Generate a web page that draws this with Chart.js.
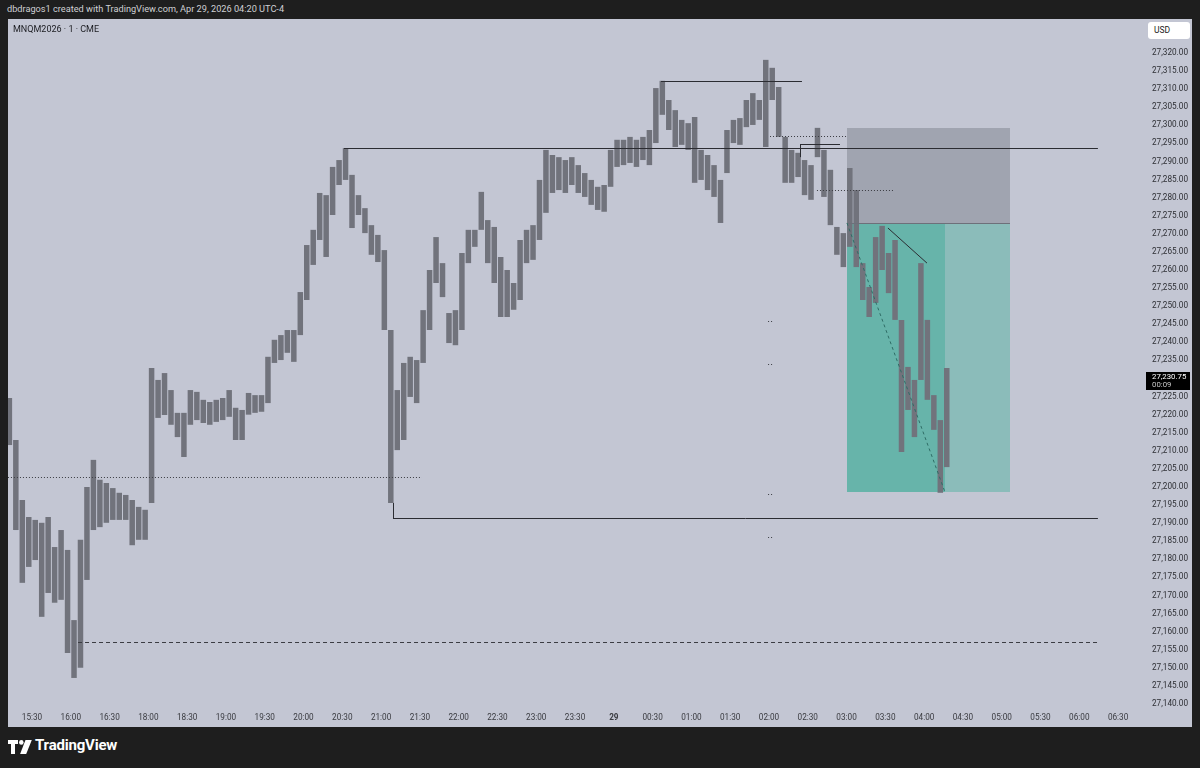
<!DOCTYPE html>
<html>
<head>
<meta charset="utf-8">
<script src="https://cdn.jsdelivr.net/npm/chart.js@4.4.0/dist/chart.umd.min.js"></script>
<style>
  html, body { margin:0; padding:0; background:#1e1e1e; width:1200px; height:768px; overflow:hidden;
    font-family: Roboto, "Liberation Sans", sans-serif; }
  #head { position:absolute; left:7px; top:3px; color:#cfd0d4; font-size:9.2px; white-space:nowrap; }
  #panel { position:absolute; left:8px; top:19px; width:1184px; height:708px; background:#c3c6d3; }
  #sym { position:absolute; left:13px; top:24px; font-size:9px; color:#1c1d22; white-space:nowrap; }
  #usd { position:absolute; left:1148px; top:22px; width:42px; height:17px; background:#fff; border-radius:3px;
    font-size:8.5px; color:#222; line-height:17px; padding-left:6px; box-sizing:border-box; }
  #logo { position:absolute; left:8px; top:740px; }
  #foot { position:absolute; left:35px; top:736px; color:#fff; font-weight:bold; font-size:15px; letter-spacing:-0.2px; }
</style>
</head>
<body>
<div id="head">dbdragos1 created with TradingView.com, Apr 29, 2026 04:20 UTC-4</div>
<div id="panel"><canvas id="chart" width="1184" height="708"></canvas></div>
<div id="sym">MNQM2026 · 1 · CME</div>
<div id="usd">USD</div>
<svg id="logo" width="24" height="14" viewBox="0 0 24 14">
  <path d="M0 0h10v4h-3v10h-4v-10h-3z" fill="#fff"/>
  <circle cx="13.3" cy="2.4" r="2.3" fill="#fff"/>
  <path d="M17.5 0h6.3l-5.6 14h-6.1z" fill="#fff"/>
</svg>
<div id="foot">TradingView</div>

<script>
// session minutes: 15:00 = 0, the 17:00-18:00 break is removed, so 18:00 = 120 and 00:00 = 480
var firstBarMinute = 10;   // first 5-minute bar starts 15:10
var barMinutes = 5;

// 5-minute highs and lows
var barHigh = [
  27224.6, 27213.0, 27196.4, 27191.7, 27190.9, 27190.1, 27191.7, 27183.4, 27188.1, 27182.6,
  27163.2, 27185.4, 27200.0, 27207.5, 27202.0, 27201.1, 27199.7, 27198.4, 27197.8, 27196.4,
  27194.5, 27193.7, 27232.9, 27229.6, 27231.5, 27226.8, 27220.5, 27220.5, 27226.8, 27226.3,
  27224.1, 27223.5, 27224.1, 27224.6, 27226.8, 27221.9, 27221.3, 27226.0, 27225.4, 27225.4,
  27236.0, 27240.7, 27242.0, 27243.4, 27243.4, 27253.9, 27266.9, 27271.1, 27281.3, 27280.7,
  27288.5, 27290.4, 27293.7, 27286.3, 27280.7, 27277.1, 27272.4, 27269.7, 27265.5, 27243.4,
  27226.8, 27234.3, 27236.0, 27235.1, 27248.9, 27260.0, 27269.1, 27261.9, 27248.1, 27248.9,
  27264.7, 27271.1, 27271.1, 27281.6, 27273.8, 27271.9, 27263.6, 27260.0, 27256.4, 27268.3,
  27271.1, 27272.4, 27284.9, 27293.2, 27291.8, 27291.2, 27290.4, 27291.2, 27289.0, 27286.8,
  27284.9, 27283.0, 27283.5, 27293.2, 27296.0, 27296.0, 27296.8, 27296.0, 27296.8, 27298.7,
  27310.3, 27312.3, 27307.0, 27304.2, 27301.5, 27300.6, 27302.3, 27293.2, 27291.8, 27289.0,
  27284.9, 27298.7, 27301.5, 27302.0, 27307.0, 27308.9, 27307.0, 27318.1, 27315.9, 27310.6,
  27296.8, 27293.2, 27292.4, 27290.4, 27289.0, 27299.3, 27293.2, 27287.7, 27271.9, 27270.2,
  27288.2, 27282.1, 27261.9, 27255.3, 27269.1, 27272.2, 27264.7, 27268.3, 27246.2, 27233.2,
  27229.6, 27261.9, 27246.2, 27225.4, 27218.5, 27232.9
];
var barLow = [
  27211.6, 27188.1, 27173.5, 27177.9, 27179.8, 27164.1, 27170.7, 27168.0, 27168.8, 27154.1,
  27147.2, 27150.0, 27174.3, 27188.1, 27188.9, 27190.1, 27190.9, 27190.9, 27190.9, 27183.9,
  27185.4, 27185.4, 27195.6, 27219.1, 27219.9, 27217.2, 27213.8, 27208.3, 27217.2, 27218.5,
  27217.7, 27217.2, 27218.0, 27218.5, 27219.4, 27213.0, 27213.0, 27220.0, 27220.5, 27220.8,
  27223.2, 27234.3, 27235.1, 27237.1, 27234.6, 27242.0, 27251.7, 27261.4, 27268.3, 27263.6,
  27275.2, 27283.5, 27284.9, 27271.6, 27275.2, 27270.2, 27264.2, 27262.2, 27243.4, 27195.6,
  27210.2, 27213.0, 27224.9, 27223.2, 27234.3, 27243.4, 27256.4, 27252.5, 27239.8, 27239.2,
  27243.4, 27261.9, 27266.4, 27271.1, 27261.9, 27256.4, 27247.0, 27247.0, 27249.0, 27251.7,
  27261.9, 27262.8, 27268.3, 27275.8, 27281.3, 27282.1, 27281.3, 27283.5, 27281.3, 27280.2,
  27278.0, 27276.6, 27276.1, 27283.0, 27288.5, 27289.0, 27289.6, 27288.5, 27290.4, 27289.0,
  27295.1, 27302.9, 27298.7, 27294.0, 27294.6, 27293.2, 27284.1, 27284.9, 27282.1, 27280.2,
  27273.0, 27286.8, 27295.1, 27294.6, 27299.5, 27300.1, 27301.5, 27294.0, 27307.0, 27296.8,
  27284.1, 27284.1, 27285.7, 27280.7, 27279.4, 27291.2, 27280.2, 27272.4, 27264.2, 27260.8,
  27266.4, 27260.8, 27251.7, 27247.0, 27250.9, 27260.0, 27253.6, 27246.2, 27209.7, 27221.3,
  27213.8, 27229.6, 27224.1, 27215.8, 27198.4, 27205.5
];

var lastPrice = 27230.75;
var lastPriceTimer = '00:09';

// time axis
var tickMinutes = [30, 60, 90, 120, 150, 180, 210, 240, 270, 300, 330, 360, 390, 420, 450,
  480, 510, 540, 570, 600, 630, 660, 690, 720, 750, 780, 810, 840, 870];
var timeLabels = ['15:30', '16:00', '16:30', '18:00', '18:30', '19:00', '19:30', '20:00', '20:30',
  '21:00', '21:30', '22:00', '22:30', '23:00', '23:30', '29', '00:30', '01:00', '01:30', '02:00',
  '02:30', '03:00', '03:30', '04:00', '04:30', '05:00', '05:30', '06:00', '06:30'];

// price axis
var priceTickMin = 27140, priceTickMax = 27320, priceTickStep = 5;
var priceTicks = [];
for (var p = priceTickMin; p <= priceTickMax; p += priceTickStep) priceTicks.push(p);

// drawings: [startMinute, endMinute, topPrice, bottomPrice, fill]
var boxes = [
  [660.3, 786.4, 27299.3, 27273.0, 'rgba(118,121,134,0.45)'],
  [660.3, 736.1, 27273.0, 27198.6, '#67b4aa'],
  [736.1, 786.4, 27273.0, 27198.6, '#8bbcba']
];
// lines: [minute0, price0, minute1, price1, style]
var lines = [
  [271.3, 27293.7, 854.4, 27293.7, 'solid'],
  [309.2, 27191.4, 854.4, 27191.4, 'solid'],
  [309.2, 27195.6, 309.2, 27191.4, 'solid'],
  [516.5, 27312.3, 625.5, 27312.3, 'solid'],
  [624.0, 27294.8, 654.9, 27294.8, 'solid'],
  [624.0, 27294.8, 624.0, 27291.2, 'solid'],
  [600.8, 27297.1, 661.0, 27297.1, 'dot'],
  [637.1, 27282.1, 695.9, 27282.1, 'dot'],
  [11.4, 27202.8, 331.6, 27202.8, 'dot'],
  [65.6, 27157.2, 854.4, 27157.2, 'dash'],
  [660.3, 27273.0, 786.4, 27273.0, 'entry'],
  [660.3, 27273.0, 736.1, 27198.6, 'tealdash'],
  [692.0, 27271.6, 722.2, 27261.9, 'solid'],
  [599.3, 27245.9, 603.8, 27245.9, 'dot'],
  [599.3, 27234.0, 603.8, 27234.0, 'dot'],
  [599.3, 27198.1, 603.8, 27198.1, 'dot'],
  [599.3, 27186.2, 603.8, 27186.2, 'dot']
];
var lineStyles = {
  solid:    { color: '#2b2c32', dash: [] },
  dot:      { color: '#3b3c42', dash: [1, 2] },
  dash:     { color: '#3b3c42', dash: [4, 3] },
  entry:    { color: '#6d707a', dash: [] },
  tealdash: { color: '#2f6d66', dash: [3, 3] }
};

function fmtPrice(v) {
  var s = v.toFixed(2);
  return s.slice(0, 2) + ',' + s.slice(2);
}

var drawPlugin = {
  id: 'drawings',
  beforeDatasetsDraw: function (chart) {
    var ctx = chart.ctx, x = chart.scales.x, y = chart.scales.y, a = chart.chartArea;
    ctx.save();
    ctx.beginPath(); ctx.rect(a.left, a.top, a.right - a.left, a.bottom - a.top); ctx.clip();
    boxes.forEach(function (b) {
      var x0 = Math.round(x.getPixelForValue(b[0])), x1 = Math.round(x.getPixelForValue(b[1]));
      var y0 = Math.round(y.getPixelForValue(b[2])), y1 = Math.round(y.getPixelForValue(b[3]));
      ctx.fillStyle = b[4];
      ctx.fillRect(x0, y0, x1 - x0, y1 - y0);
    });
    ctx.restore();
  },
  afterDatasetsDraw: function (chart) {
    var ctx = chart.ctx, x = chart.scales.x, y = chart.scales.y, a = chart.chartArea;
    ctx.save();
    ctx.beginPath(); ctx.rect(a.left, a.top, a.right - a.left, a.bottom - a.top); ctx.clip();
    ctx.lineWidth = 1;
    lines.forEach(function (l) {
      var st = lineStyles[l[4]];
      var x0 = x.getPixelForValue(l[0]), y0 = y.getPixelForValue(l[1]);
      var x1 = x.getPixelForValue(l[2]), y1 = y.getPixelForValue(l[3]);
      if (y0 === y1) { y0 = y1 = Math.round(y0) + 0.5; }
      if (x0 === x1) { x0 = x1 = Math.round(x0) + 0.5; }
      ctx.strokeStyle = st.color;
      ctx.setLineDash(st.dash);
      ctx.beginPath(); ctx.moveTo(x0, y0); ctx.lineTo(x1, y1); ctx.stroke();
    });
    ctx.restore();
  },
  afterDraw: function (chart) {
    var ctx = chart.ctx, y = chart.scales.y, a = chart.chartArea;
    var py = y.getPixelForValue(lastPrice);
    ctx.save();
    ctx.fillStyle = '#000';
    ctx.fillRect(a.right + 8, Math.round(py) - 4, 44, 18);
    ctx.font = '7.8px Roboto';
    ctx.textBaseline = 'middle';
    ctx.fillStyle = '#fff';
    ctx.fillText(fmtPrice(lastPrice), a.right + 14, py + 1);
    ctx.fillStyle = '#c8c8c8';
    ctx.fillText(lastPriceTimer, a.right + 14, py + 9);
    ctx.restore();
  }
};

var candles = barHigh.map(function (h, i) {
  return { x: firstBarMinute + i * barMinutes + barMinutes / 2, y: [barLow[i], h] };
});

new Chart(document.getElementById('chart'), {
  type: 'bar',
  data: {
    datasets: [{
      data: candles,
      backgroundColor: '#71737c',
      borderWidth: 0,
      barPercentage: 0.85,
      categoryPercentage: 1,
      grouped: false
    }]
  },
  options: {
    responsive: false,
    animation: false,
    layout: { padding: { top: 1, left: 0, right: 0, bottom: 0 } },
    plugins: { legend: { display: false }, tooltip: { enabled: false } },
    scales: {
      x: {
        type: 'linear',
        offset: false,
        min: 11.44,
        max: 885.4,
        grid: { display: false, drawTicks: false },
        border: { display: false },
        afterBuildTicks: function (s) { s.ticks = tickMinutes.map(function (v) { return { value: v }; }); },
        afterFit: function (s) { s.height = 23; s.paddingLeft = 0; s.paddingRight = 0; },
        ticks: {
          autoSkip: false,
          maxRotation: 0,
          padding: 9,
          color: '#3a3b40',
          font: function (c) {
            return { family: 'Roboto', size: 8.2, weight: (c.tick && c.tick.value === 480) ? 'bold' : 'normal' };
          },
          callback: function (v) { return timeLabels[tickMinutes.indexOf(v)]; }
        }
      },
      y: {
        position: 'right',
        min: 27140,
        max: 27329.12,
        grid: { display: false, drawTicks: false },
        border: { display: false },
        afterBuildTicks: function (s) { s.ticks = priceTicks.map(function (v) { return { value: v }; }); },
        afterFit: function (s) { s.width = 54; s.paddingTop = 0; s.paddingBottom = 0; },
        ticks: {
          autoSkip: false,
          padding: 14,
          color: '#2e2f34',
          font: { family: 'Roboto', size: 8.2 },
          callback: function (v) { return fmtPrice(v); }
        }
      }
    }
  },
  plugins: [drawPlugin]
});
</script>
</body>
</html>
